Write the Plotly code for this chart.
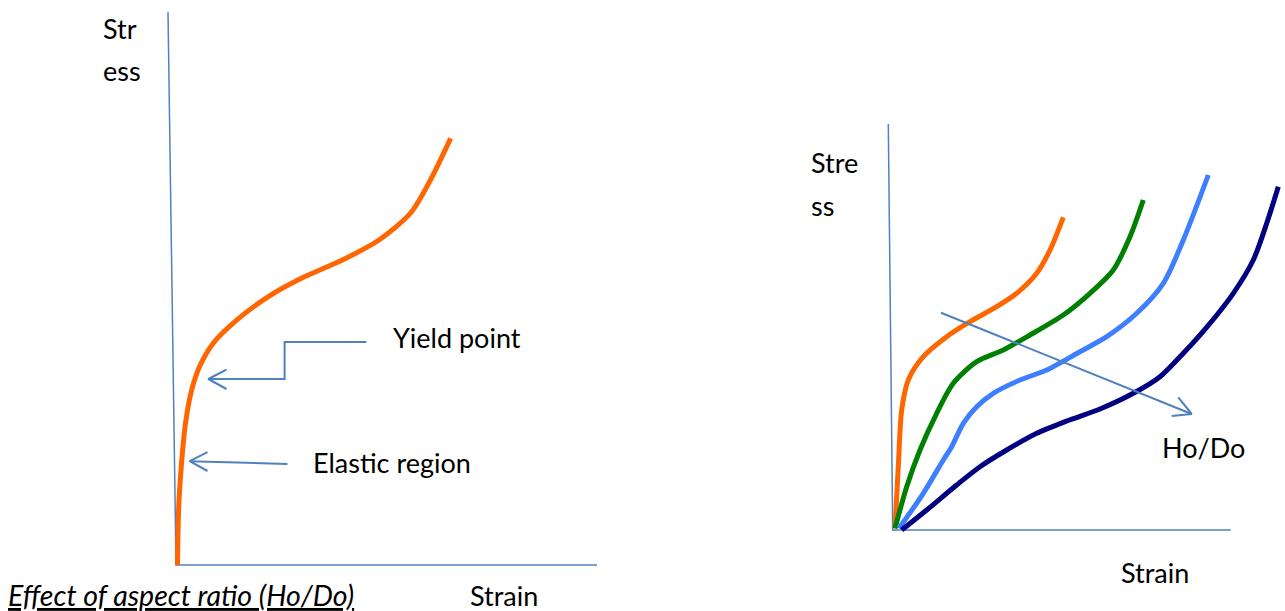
import plotly.graph_objects as go

W, H = 1285, 611

# ---- Left panel: single stress-strain curve ----
left_axis_x = [168, 176, 597]
left_axis_y = [12, 565, 565]
left_curve_x = [177.5, 178.7, 181.8, 185.8, 191.7, 199.6, 213.4, 237.2, 268.8, 300.4, 343.9, 379.4, 411.0, 430.8, 450.6]
left_curve_y = [565.3, 506.8, 460.0, 421.0, 389.9, 366.5, 343.0, 319.7, 296.3, 278.8, 259.3, 239.8, 212.5, 179.3, 138.4]

yield_arrow_x = [366.4, 284.6, 284.6, 208.3]
yield_arrow_y = [341.9, 341.9, 379.0, 379.0]
yield_head_x = [226.5, 208.3, 226.5]
yield_head_y = [369.6, 379.0, 389.0]

elastic_arrow_x = [287.4, 189.7]
elastic_arrow_y = [463.9, 461.2]
elastic_head_x = [207.5, 189.7, 207.5]
elastic_head_y = [452.2, 461.2, 471.0]

# ---- Right panel: effect of Ho/Do ----
right_axis_x = [888.3, 892.7, 1230.7]
right_axis_y = [124, 530, 530]

orange_x = [895.0, 898.3, 901.7, 908.3, 923.3, 946.7, 970.0, 996.7, 1016.7, 1036.7, 1050.0, 1063.3]
orange_y = [528.3, 466.7, 410.0, 380.0, 356.7, 336.7, 321.7, 306.7, 293.3, 273.3, 250.0, 217.3]

green_x = [895.0, 906.7, 920.0, 936.7, 953.3, 976.7, 1003.3, 1030.0, 1063.3, 1090.0, 1113.3, 1130.0, 1143.3]
green_y = [528.3, 486.7, 450.0, 413.3, 383.3, 361.7, 350.0, 335.0, 315.0, 293.3, 270.0, 236.7, 200.0]

lightblue_x = [899.0, 923.3, 943.3, 951.7, 963.3, 976.7, 993.3, 1020.0, 1046.7, 1080.0, 1106.7, 1136.7, 1163.3, 1183.3, 1208.3]
lightblue_y = [528.3, 493.3, 460.0, 446.7, 423.3, 406.7, 393.3, 380.0, 370.0, 351.7, 336.7, 313.3, 283.3, 240.0, 175.0]

navy_x = [901.7, 926.7, 956.7, 980.0, 1006.7, 1036.7, 1066.7, 1100.0, 1133.3, 1160.0, 1183.3, 1210.0, 1233.3, 1253.3, 1266.7, 1278.3]
navy_y = [530.0, 510.0, 485.0, 466.7, 450.0, 433.3, 421.0, 409.0, 393.3, 376.7, 353.3, 323.3, 293.3, 260.0, 223.3, 186.7]

hodo_arrow_x = [941.0, 1191.7]
hodo_arrow_y = [312.7, 414.0]
hodo_head_x = [1178.3, 1191.7, 1171.7]
hodo_head_y = [397.3, 414.0, 416.0]

AX = "#4F81BD"
FONT = "Lato"
FS = 27

fig = go.Figure()

def line(x, y, color, width, shape="linear"):
    fig.add_trace(go.Scatter(x=x, y=y, mode="lines",
                             line=dict(color=color, width=width, shape=shape, smoothing=0.8),
                             hoverinfo="skip", showlegend=False))

# axes
line(left_axis_x, left_axis_y, AX, 1.5)
line(right_axis_x, right_axis_y, AX, 1.5)

# left curve
line(left_curve_x, left_curve_y, "#FF6600", 5, "spline")
# callout arrows
line(yield_arrow_x, yield_arrow_y, AX, 2)
line(yield_head_x, yield_head_y, AX, 2)
line(elastic_arrow_x, elastic_arrow_y, AX, 2)
line(elastic_head_x, elastic_head_y, AX, 2)

# right curves
line(orange_x, orange_y, "#FF6600", 5, "spline")
line(green_x, green_y, "#008000", 5, "spline")
line(lightblue_x, lightblue_y, "#3D7FFF", 5, "spline")
line(navy_x, navy_y, "#000080", 5, "spline")
line(hodo_arrow_x, hodo_arrow_y, AX, 2)
line(hodo_head_x, hodo_head_y, AX, 2)

def text(x, y, s, size=FS, anchor="left"):
    fig.add_annotation(x=x, y=y, text=s, showarrow=False, xanchor=anchor,
                       yanchor="middle", font=dict(family=FONT, size=size, color="#000000"))

text(101, 28, "Str")
text(101, 70, "ess")
text(391, 337, "Yield point")
text(311, 462, "Elastic region")
text(6, 595, "<i><u>Effect of aspect ratio (Ho/Do)</u></i>", size=28.5)
text(468, 595, "Strain")
text(809, 162, "Stre")
text(809, 205, "ss")
text(1160, 447, "Ho/Do")
text(1119, 572, "Strain")

fig.update_layout(
    width=W, height=H,
    margin=dict(l=0, r=0, t=0, b=0),
    paper_bgcolor="white", plot_bgcolor="white",
    xaxis=dict(range=[0, W], visible=False, fixedrange=True),
    yaxis=dict(range=[H, 0], visible=False, fixedrange=True),
)

fig.write_html("out.html", config={"displayModeBar": False},
               post_script="document.body.style.margin='0';document.body.style.overflow='hidden';")
